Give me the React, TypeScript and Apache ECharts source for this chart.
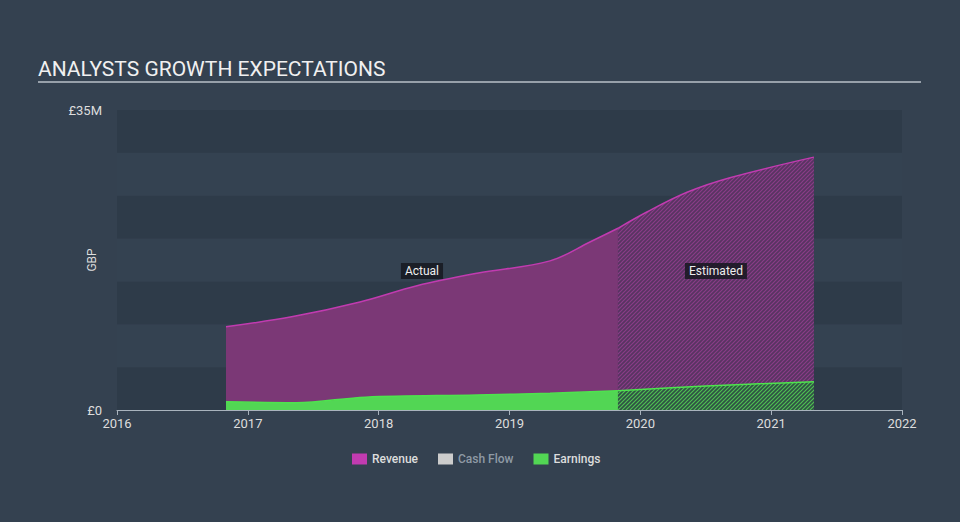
import React, { useEffect, useRef } from "react";
import * as echarts from "echarts";

// Decimal years for the x positions
const revenueActualX = [2016.833, 2017.345, 2017.857, 2018.293, 2018.752, 2019.31, 2019.615, 2019.829];
const revenueActualY = [9.7, 10.9, 12.6, 14.5, 15.95, 17.4, 19.6, 21.2]; // £M
const revenueEstX = [2019.829, 2020.05, 2020.357, 2020.685, 2021.327];
const revenueEstY = [21.2, 23.1, 25.4, 27.1, 29.5];

const earningsActualX = [2016.833, 2017.37, 2017.9, 2018.752, 2019.31, 2019.829];
const earningsActualY = [0.97, 0.85, 1.5, 1.75, 1.95, 2.25];
const earningsEstX = [2019.829, 2020.5, 2021.327];
const earningsEstY = [2.25, 2.8, 3.3];

const xTicks = [2016, 2017, 2018, 2019, 2020, 2021, 2022];
const legendNames = ["Revenue", "Cash Flow", "Earnings"];
const periodLabels = ["Actual", "Estimated"];

const pair = (xs: number[], ys: number[]) => xs.map((x, i) => [x, ys[i] * 1e6]);

function makeHatch(bg: string, fg: string) {
  const c = document.createElement("canvas");
  const s = 4;
  c.width = s;
  c.height = s;
  const ctx = c.getContext("2d")!;
  ctx.fillStyle = bg;
  ctx.fillRect(0, 0, s, s);
  ctx.strokeStyle = fg;
  ctx.lineWidth = 1.2;
  ctx.beginPath();
  ctx.moveTo(0, s);
  ctx.lineTo(s, 0);
  ctx.moveTo(-1, 1);
  ctx.lineTo(1, -1);
  ctx.moveTo(s - 1, s + 1);
  ctx.lineTo(s + 1, s - 1);
  ctx.stroke();
  return { image: c, repeat: "repeat" as const };
}

export default function App() {
  const ref = useRef<HTMLDivElement>(null);
  useEffect(() => {
    if (!ref.current) return;
    const chart = echarts.init(ref.current, undefined, { renderer: "svg" });
    const revLine = "#c13bb0";
    const revFill = "#7b3876";
    const earnLine = "#4ee34e";
    const earnFill = "#52d654";
    const font = "Roboto";
    const lineSeries = (name: string, color: string, data: number[][], line: string, fill: any, z: number) => ({
      name,
      type: "line",
      color,
      data,
      smooth: 0.35,
      symbol: "none",
      lineStyle: { color: line, width: 1.5 },
      areaStyle: { color: fill, opacity: 1 },
      z,
    });
    const option: any = {
      animation: false,
      backgroundColor: "#344150",
      title: {
        text: "ANALYSTS GROWTH EXPECTATIONS",
        left: 38,
        top: 58,
        padding: 0,
        textStyle: { color: "#f0f0f0", fontSize: 21, fontWeight: "normal", fontFamily: font },
      },
      grid: { left: 117, right: 58, top: 110, bottom: 112 },
      legend: {
        top: 448,
        left: 347,
        icon: "rect",
        itemWidth: 15,
        itemHeight: 11,
        itemGap: 20,
        selectedMode: false,
        textStyle: { color: "#dddddd", fontSize: 12, fontFamily: font, fontWeight: 500 },
        data: [
          { name: legendNames[0] },
          { name: legendNames[1], textStyle: { color: "#8f9aa5" } },
          { name: legendNames[2] },
        ],
      },
      xAxis: {
        type: "value",
        min: xTicks[0],
        max: xTicks[xTicks.length - 1],
        interval: 1,
        axisLine: { lineStyle: { color: "#a9b3bd" } },
        axisTick: { length: 5, lineStyle: { color: "#a9b3bd" } },
        splitLine: { show: false },
        axisLabel: {
          color: "#dddddd",
          fontSize: 13,
          fontFamily: font,
          margin: 7,
          formatter: (v: number) => String(v),
        },
      },
      yAxis: {
        type: "value",
        min: 0,
        max: 35e6,
        interval: 5e6,
        name: "GBP",
        nameLocation: "middle",
        nameGap: 19,
        nameMoveOverlap: false,
        nameTextStyle: { color: "#dddddd", fontSize: 12, fontFamily: font },
        axisLine: { show: false },
        axisTick: { show: false },
        splitLine: { show: false },
        splitArea: { show: true, areaStyle: { color: ["#2e3b49", "#344251"] } },
        axisLabel: {
          color: "#dddddd",
          fontSize: 13,
          fontFamily: font,
          margin: 15,
          formatter: (v: number) => (v === 0 ? "£0" : v === 35e6 ? "£35M" : ""),
        },
      },
      series: [
        lineSeries("Revenue", revLine, pair(revenueActualX, revenueActualY), revLine, revFill, 2),
        lineSeries("Revenue", revLine, pair(revenueEstX, revenueEstY), revLine, makeHatch("#573461", "#8a3d88"), 2),
        { name: "Cash Flow", type: "line", color: "#cccccc", data: [] },
        lineSeries("Earnings", earnFill, pair(earningsActualX, earningsActualY), earnLine, earnFill, 3),
        lineSeries("Earnings", earnFill, pair(earningsEstX, earningsEstY), earnLine, makeHatch("#2f5144", "#4fc052"), 3),
      ],
    };
    chart.setOption(option);

    // Period labels, centred on each period via the chart's own scales
    const periods = [
      [revenueActualX[0], revenueActualX[revenueActualX.length - 1]],
      [revenueEstX[0], revenueEstX[revenueEstX.length - 1]],
    ];
    const midY = chart.convertToPixel({ yAxisIndex: 0 }, 17.5e6) as number;
    const graphics: any[] = [
      {
        type: "line",
        shape: { x1: 38, y1: 82, x2: 921, y2: 82 },
        style: { stroke: "#b8c0c8", lineWidth: 1.5 },
      },
    ];
    periods.forEach((p, i) => {
      const x = chart.convertToPixel({ xAxisIndex: 0 }, (p[0] + p[1]) / 2) as number;
      graphics.push({
        type: "text",
        x,
        y: midY + 11,
        z: 100,
        style: {
          text: periodLabels[i],
          fill: "#eeeeee",
          fontSize: 12,
          fontFamily: font,
          align: "center",
          verticalAlign: "middle",
          backgroundColor: "rgba(22,24,32,0.85)",
          padding: [2, 4],
        },
      });
    });
    chart.setOption({ graphic: graphics });
    return () => chart.dispose();
  }, []);
  return (
    <div
      ref={ref}
      style={{ position: "fixed", left: 0, top: 0, width: 960, height: 522, background: "#344150" }}
    />
  );
}
